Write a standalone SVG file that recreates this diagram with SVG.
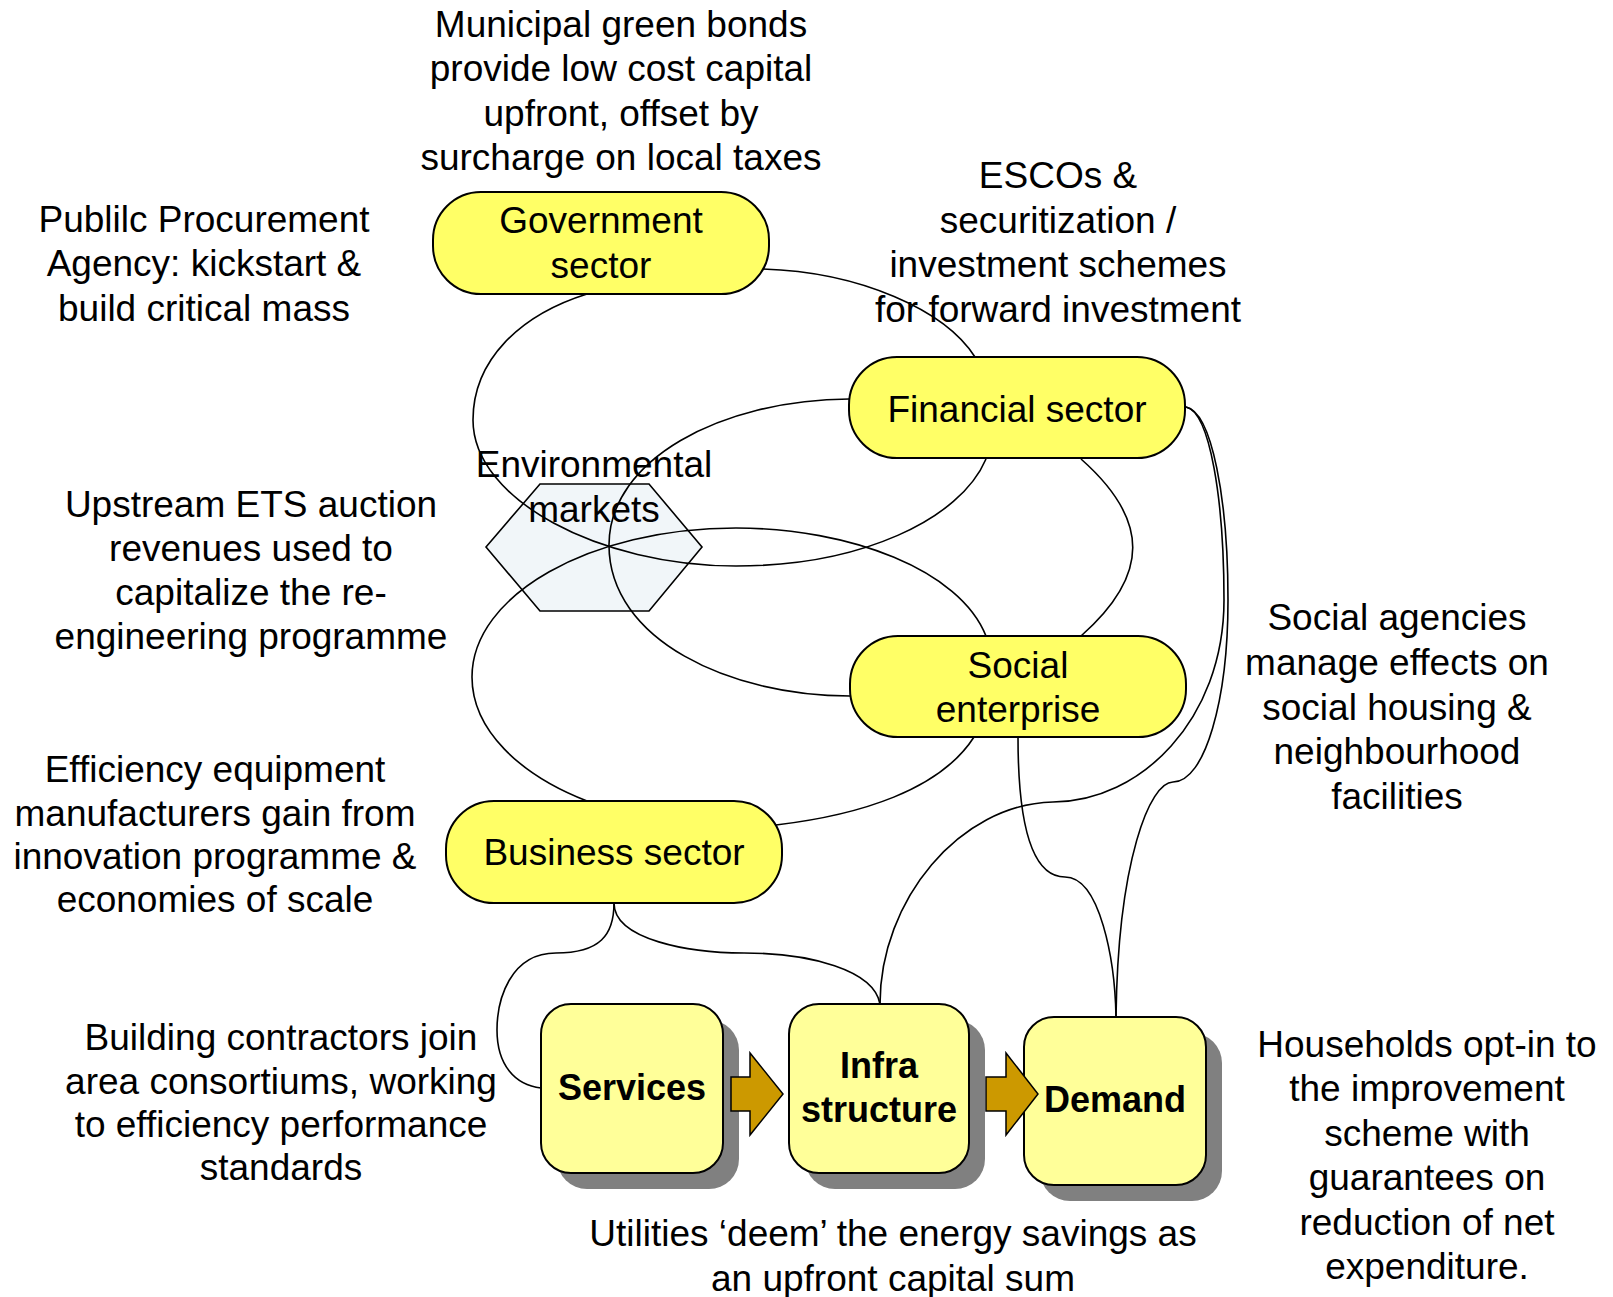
<svg xmlns="http://www.w3.org/2000/svg" width="1613" height="1297" viewBox="0 0 1613 1297">
<style>
text{font-family:"Liberation Sans",Arial,sans-serif;font-size:37px;fill:#000;text-anchor:middle}
.b{font-weight:bold;font-size:36px}
.oval{fill:#FFFF66;stroke:#000;stroke-width:2}
.box{fill:#FFFF99;stroke:#000;stroke-width:2}
.sh{fill:#808080}
.con{fill:none;stroke:#000;stroke-width:1.6}
.arr{fill:#CC9900;stroke:#000;stroke-width:1.5;stroke-linejoin:miter}
</style>
<rect width="1613" height="1297" fill="#fff"/>

<g id="env-markets">
<polygon points="486,547 540,484 649,484 702,547 649,611 540,611" fill="#F1F6F9" stroke="#000" stroke-width="1.6"/>
<text x="594" y="477">Environmental</text>
<text x="594" y="522">markets</text>
</g>

<g id="connectors">
<path class="con" d="M 587 294 C 520 315, 473 360, 473 420 C 473 500, 600 566, 736 566 C 860 566, 960 520, 986 459"/>
<path class="con" d="M 763 269 C 860 272, 945 310, 975 357"/>
<path class="con" d="M 849 399 C 720 400, 609 460, 609 545 C 609 640, 730 696, 850 696"/>
<path class="con" d="M 1081 459 C 1150 520, 1150 575, 1081 636"/>
<path class="con" d="M 986 636 C 960 570, 850 528, 736 528 C 590 528, 472 595, 472 677 C 472 730, 520 775, 587 801"/>
<path class="con" d="M 974 737 C 940 790, 860 815, 776 825"/>
<path class="con" d="M 1186 407 C 1210 412, 1224 500, 1224 600 C 1224 720, 1140 802, 1053 802 C 960 804, 880 900, 880 1004"/>
<path class="con" d="M 1186 407 C 1212 412, 1228 500, 1228 600 C 1228 700, 1205 782, 1173 782 C 1150 782, 1118 860, 1116 1017"/>
<path class="con" d="M 1018 737 C 1018 820, 1030 877, 1065 877 C 1100 877, 1115 960, 1116 1017"/>
<path class="con" d="M 614 903 C 614 940, 690 953, 744 953 C 810 953, 874 970, 880 1004"/>
<path class="con" d="M 614 903 C 614 935, 600 953, 556 953 C 510 953, 497 1000, 497 1030 C 497 1065, 515 1085, 541 1088"/>
</g>

<g id="government">
<rect class="oval" x="433" y="192" width="336" height="102" rx="48" ry="48"/>
<text x="601" y="233">Government</text>
<text x="601" y="278">sector</text>
</g>
<g id="financial">
<rect class="oval" x="849" y="357" width="336" height="101" rx="48" ry="48"/>
<text x="1017" y="422">Financial sector</text>
</g>
<g id="social">
<rect class="oval" x="850" y="636" width="336" height="101" rx="48" ry="48"/>
<text x="1018" y="678">Social</text>
<text x="1018" y="722">enterprise</text>
</g>
<g id="business">
<rect class="oval" x="446" y="801" width="336" height="102" rx="48" ry="48"/>
<text x="614" y="865">Business sector</text>
</g>

<g id="services">
<rect class="sh" x="557" y="1020" width="182" height="169" rx="30"/>
<rect class="box" x="541" y="1004" width="182" height="169" rx="30"/>
<text class="b" x="632" y="1100">Services</text>
</g>
<g id="infrastructure">
<rect class="sh" x="805" y="1020" width="180" height="169" rx="30"/>
<rect class="box" x="789" y="1004" width="180" height="169" rx="30"/>
<text class="b" x="879" y="1078">Infra</text>
<text class="b" x="879" y="1122">structure</text>
</g>
<g id="demand">
<rect class="sh" x="1040" y="1033" width="182" height="168" rx="30"/>
<rect class="box" x="1024" y="1017" width="182" height="168" rx="30"/>
<text class="b" x="1115" y="1112">Demand</text>
</g>

<g id="flow-arrows">
<polygon class="arr" points="731,1077 750,1077 750,1053 783,1094 750,1135 750,1111 731,1111"/>
<polygon class="arr" points="986,1077 1006,1077 1006,1053 1038,1094 1006,1135 1006,1111 986,1111"/>
</g>

<g id="annotations">
<text x="621"><tspan x="621" y="37">Municipal green bonds</tspan><tspan x="621" y="81">provide low cost capital</tspan><tspan x="621" y="125.5">upfront, offset by</tspan><tspan x="621" y="170">surcharge on local taxes</tspan></text>
<text x="204"><tspan x="204" y="231.5">Publilc Procurement</tspan><tspan x="204" y="276">Agency: kickstart &amp;</tspan><tspan x="204" y="320.5">build critical mass</tspan></text>
<text x="1058"><tspan x="1058" y="188">ESCOs &amp;</tspan><tspan x="1058" y="232.5">securitization /</tspan><tspan x="1058" y="277">investment schemes</tspan><tspan x="1058" y="321.5">for forward investment</tspan></text>
<text x="251"><tspan x="251" y="517">Upstream ETS auction</tspan><tspan x="251" y="561">revenues used to</tspan><tspan x="251" y="605">capitalize the re-</tspan><tspan x="251" y="649">engineering programme</tspan></text>
<text x="215"><tspan x="215" y="782">Efficiency equipment</tspan><tspan x="215" y="825.5">manufacturers gain from</tspan><tspan x="215" y="869">innovation programme &amp;</tspan><tspan x="215" y="912">economies of scale</tspan></text>
<text x="281"><tspan x="281" y="1050">Building contractors join</tspan><tspan x="281" y="1093.5">area consortiums, working</tspan><tspan x="281" y="1137">to efficiency performance</tspan><tspan x="281" y="1180">standards</tspan></text>
<text x="1397"><tspan x="1397" y="630">Social agencies</tspan><tspan x="1397" y="675">manage effects on</tspan><tspan x="1397" y="719.5">social housing &amp;</tspan><tspan x="1397" y="764">neighbourhood</tspan><tspan x="1397" y="808.5">facilities</tspan></text>
<text x="1427"><tspan x="1427" y="1056.5">Households opt-in to</tspan><tspan x="1427" y="1101">the improvement</tspan><tspan x="1427" y="1145.5">scheme with</tspan><tspan x="1427" y="1190">guarantees on</tspan><tspan x="1427" y="1234.5">reduction of net</tspan><tspan x="1427" y="1279">expenditure.</tspan></text>
<text x="893"><tspan x="893" y="1246">Utilities ‘deem’ the energy savings as</tspan><tspan x="893" y="1290.5">an upfront capital sum</tspan></text>
</g>
</svg>
